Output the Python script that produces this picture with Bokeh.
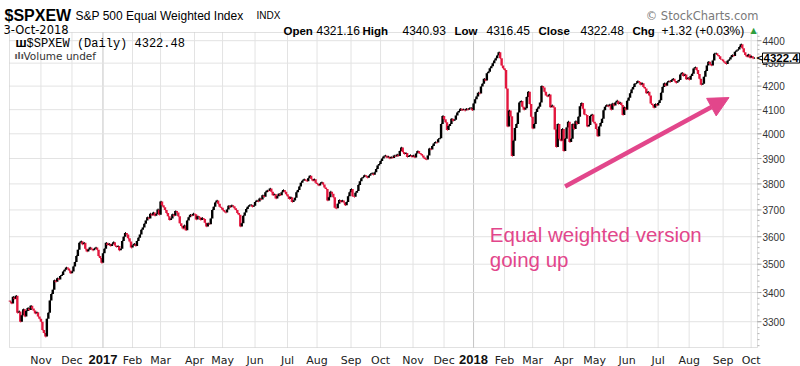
import math
import pandas as pd
from bokeh.plotting import figure
from bokeh.models import Range1d, Label, Arrow, NormalHead, BoxAnnotation, ColumnDataSource
from bokeh.embed import file_html
from bokeh.resources import INLINE

# ---------------- data ----------------
start_date = "2016-10-03"
end_date = "2018-10-03"
market_holidays = ["2016-11-24", "2016-12-26", "2017-01-02", "2017-01-16", "2017-02-20",
                   "2017-04-14", "2017-05-29", "2017-07-04", "2017-09-04", "2017-11-23",
                   "2017-12-25", "2018-01-01", "2018-01-15", "2018-02-19", "2018-03-30",
                   "2018-05-28", "2018-07-04", "2018-09-03"]

first_open = 3372
close = [
    # Oct 2016
    3368, 3362, 3385, 3378, 3389, 3330, 3335, 3300, 3322, 3342, 3318, 3336, 3347, 3340, 3354, 3345, 3338, 3328, 3332, 3318, 3310,
    # Nov 2016
    3300, 3272, 3262, 3250, 3310, 3330, 3372, 3395, 3410, 3443, 3438, 3450, 3446, 3458, 3462, 3474, 3480, 3488, 3485, 3478, 3468,
    # Dec 2016
    3474, 3492, 3508, 3530, 3552, 3578, 3583, 3572, 3578, 3556, 3546, 3552, 3560, 3556, 3550, 3556, 3560, 3552, 3530, 3522, 3505,
    # Jan 2017
    3540, 3556, 3578, 3570, 3574, 3566, 3572, 3580, 3568, 3562, 3566, 3550, 3556, 3584, 3600, 3614, 3608, 3594, 3582, 3560,
    # Feb 2017
    3568, 3574, 3566, 3584, 3596, 3608, 3626, 3634, 3648, 3660, 3672, 3668, 3686, 3680, 3690, 3678, 3684, 3702, 3682,
    # Mar 2017
    3732, 3718, 3710, 3700, 3688, 3676, 3662, 3668, 3684, 3678, 3696, 3690, 3676, 3650, 3640, 3630, 3642, 3624, 3660, 3672, 3682, 3678, 3686,
    # Apr 2017
    3684, 3664, 3676, 3672, 3662, 3670, 3666, 3652, 3638, 3650, 3646, 3668, 3700, 3712, 3728, 3736, 3724, 3712, 3708,
    # May 2017
    3700, 3694, 3690, 3702, 3716, 3710, 3718, 3714, 3706, 3700, 3688, 3682, 3638, 3650, 3678, 3690, 3704, 3712, 3718, 3720, 3712, 3716,
    # Jun 2017
    3730, 3736, 3732, 3744, 3740, 3756, 3750, 3768, 3774, 3772, 3782, 3770, 3756, 3760, 3744, 3752, 3762, 3756, 3768, 3776, 3770, 3760,
    # Jul 2017
    3752, 3742, 3748, 3730, 3736, 3746, 3768, 3776, 3790, 3804, 3812, 3818, 3814, 3810, 3822, 3832, 3820, 3812, 3818, 3804,
    # Aug 2017
    3800, 3794, 3802, 3806, 3798, 3786, 3780, 3736, 3748, 3770, 3762, 3748, 3708, 3706, 3724, 3738, 3730, 3736, 3728, 3718, 3730, 3752, 3768,
    # Sep 2017
    3780, 3752, 3750, 3766, 3772, 3796, 3810, 3822, 3826, 3834, 3830, 3824, 3832, 3838, 3842, 3836, 3846, 3858, 3872, 3878,
    # Oct 2017
    3890, 3900, 3908, 3912, 3904, 3908, 3900, 3906, 3902, 3912, 3908, 3916, 3910, 3930, 3944, 3926, 3918, 3922, 3906, 3910, 3914, 3906,
    # Nov 2017
    3912, 3904, 3920, 3930, 3922, 3918, 3912, 3904, 3898, 3896, 3912, 3940, 3936, 3950, 3960, 3966, 3964, 3978, 3982, 4040, 4074,
    # Dec 2017
    4060, 4048, 4016, 4032, 4040, 4062, 4054, 4058, 4076, 4088, 4094, 4104, 4098, 4102, 4096, 4104, 4100, 4106, 4108, 4098,
    # Jan 2018
    4126, 4144, 4156, 4172, 4168, 4198, 4210, 4232, 4224, 4256, 4262, 4278, 4286, 4300, 4312, 4322, 4334, 4348, 4322, 4290, 4278,
    # Feb 2018
    4270, 4190, 4030, 4096, 4072, 3910, 3972, 4024, 4040, 4088, 4130, 4136, 4112, 4100, 4106, 4154, 4176, 4124, 4070,
    # Mar 2018
    4022, 4040, 4090, 4104, 4112, 4130, 4200, 4194, 4176, 4160, 4156, 4164, 4110, 4118, 4110, 4018, 3946, 4040, 3980, 3972, 4020,
    # Apr 2018
    3930, 3980, 4026, 4050, 3966, 3980, 4040, 4020, 4052, 4040, 4070, 4114, 4128, 4104, 4080, 4078, 4030, 4036, 4074, 4080, 4050,
    # May 2018
    4042, 4020, 3990, 4030, 4044, 4062, 4098, 4112, 4120, 4114, 4122, 4100, 4126, 4118, 4130, 4138, 4124, 4130, 4120, 4078, 4110, 4100,
    # Jun 2018
    4138, 4150, 4170, 4186, 4196, 4210, 4212, 4222, 4218, 4206, 4212, 4196, 4190, 4170, 4176, 4160, 4126, 4120, 4108, 4124, 4118,
    # Jul 2018
    4128, 4140, 4172, 4196, 4212, 4202, 4216, 4222, 4218, 4226, 4232, 4222, 4214, 4220, 4226, 4250, 4258, 4244, 4250, 4230, 4236,
    # Aug 2018
    4228, 4244, 4254, 4276, 4282, 4270, 4252, 4232, 4206, 4210, 4240, 4266, 4290, 4306, 4296, 4290, 4312, 4342, 4344, 4336, 4330, 4318, 4316,
    # Sep 2018
    4308, 4302, 4296, 4310, 4316, 4326, 4336, 4332, 4350, 4356, 4360, 4372, 4384, 4366, 4348, 4336, 4328, 4338, 4324,
    # Oct 2018
    4330, 4321.16, 4322.48,
]

month_labels = ["Nov", "Dec", "2017", "Feb", "Mar", "Apr", "May", "Jun", "Jul", "Aug", "Sep", "Oct",
                "Nov", "Dec", "2018", "Feb", "Mar", "Apr", "May", "Jun", "Jul", "Aug", "Sep", "Oct"]
price_ticks = [3300, 3400, 3500, 3600, 3700, 3800, 3900, 4000, 4100, 4200, 4300, 4400]
minor_price_ticks = list(range(3220, 4440, 20))

symbol = "$SPXEW"
index_name = "S&P 500 Equal Weighted Index"
last_date = "3-Oct-2018"
q_open, q_high, q_low, q_close = "4321.16", "4340.93", "4316.45", "4322.48"
q_chg = "+1.32 (+0.03%)"
note_lines = ["Equal weighted version", "going up"]

# ---------------- build ----------------
dates = pd.bdate_range(start_date, end_date)
dates = dates[~dates.isin(pd.to_datetime(market_holidays))]
n = min(len(dates), len(close))
dates = dates[:n]
xs = list(range(n))
prev = [first_open] + close[:n - 1]
UP, DOWN = "#000000", "#e3173e"
colors = [UP if c >= p0 else DOWN for c, p0 in zip(close[:n], prev)]
src = ColumnDataSource(dict(x=xs, y0=prev, y1=close[:n], c=colors,
                            xr=[x + 0.6 for x in xs]))

month_idx = [i for i in range(1, n) if dates[i].month != dates[i - 1].month]
label_map = dict(zip(month_idx, month_labels))

# canvas / plot-area geometry (pixels) and plot-area data bounds
W, H = 800, 366
FL, FR, FT, FB = 9, 757, 32, 347
X0, X1 = -0.3, 506.3
Y0, Y1 = 3214.0, 4437.0
pxu = (FR - FL) / (X1 - X0)                    # pixels per trading day
k = math.log(Y1 / Y0) / (FB - FT)              # log units per pixel
xr = Range1d(X0 - FL / pxu, X1 + (W - FR) / pxu)
yr = Range1d(Y0 * math.exp(-k * (H - FB)), Y1 * math.exp(k * FT))

PINK = "#e2468b"
GRID = "#e3e3e3"

p = figure(width=W, height=H, output_backend="svg", toolbar_location=None,
           y_axis_type="log", x_range=xr, y_range=yr,
           min_border=0, background_fill_color="white", border_fill_color="white")
p.outline_line_color = None
p.xaxis.visible = False
p.yaxis.visible = False
p.grid.visible = False

# grid lines of the plot area
p.segment(x0=month_idx, y0=[Y0] * len(month_idx), x1=month_idx, y1=[Y1] * len(month_idx),
          line_color=[("#c4c4c4" if label_map[i].isdigit() else GRID) for i in month_idx],
          line_width=1)
p.segment(x0=[X0] * len(price_ticks), y0=price_ticks, x1=[X1] * len(price_ticks), y1=price_ticks,
          line_color=GRID, line_width=1)
# right-axis tick marks
p.segment(x0=[X1] * len(price_ticks), y0=price_ticks, x1=[X1 + 4 / pxu] * len(price_ticks),
          y1=price_ticks, line_color="#999999", line_width=1)
p.segment(x0=[X1] * len(minor_price_ticks), y0=minor_price_ticks,
          x1=[X1 + 2 / pxu] * len(minor_price_ticks), y1=minor_price_ticks,
          line_color="#b5b5b5", line_width=1)

# price bars
p.segment(x0="x", y0="y0", x1="x", y1="y1", line_color="c", line_width=2.4, source=src)
p.segment(x0="x", y0="y1", x1="xr", y1="y1", line_color="c", line_width=1.6, source=src)

# plot-area border
p.add_layout(BoxAnnotation(left=X0, right=X1, bottom=Y0, top=Y1, fill_alpha=0,
                           line_color="#9a9a9a", line_width=1))


def T(x, y, text, size="12px", bold=False, color="#000000", font="Liberation Sans",
      align="left", baseline="alphabetic", xu="screen", yu="screen"):
    """Text; screen coordinates are given as canvas pixels from the top-left corner."""
    p.add_layout(Label(x=x, y=(H - y) if yu == "screen" else y, x_units=xu, y_units=yu,
                       text=text, text_font=font, text_font_size=size,
                       text_font_style="bold" if bold else "normal",
                       text_color=color, text_align=align, text_baseline=baseline))


# x-axis labels
for i, lab in label_map.items():
    if lab.isdigit():
        T(i, 358.5, lab, size="13px", bold=True, color="#111111", align="center", xu="data")
    else:
        T(i, 360, lab, size="11px", color="#222222", align="center", font="DejaVu Sans", xu="data")

# y-axis labels
for v in price_ticks:
    T(762, v, str(v), size="10px", color="#333333", baseline="middle", yu="data")

# annotation arrow and note
p.add_layout(Arrow(end=NormalHead(size=20, fill_color=PINK, line_color=PINK),
                   x_start=376, y_start=3790, x_end=487, y_end=4151,
                   line_color=PINK, line_width=4.5))
T(325, 3608, note_lines[0], size="20.5px", color=PINK, xu="data", yu="data")
T(325, 3517, note_lines[1], size="20.5px", color=PINK, xu="data", yu="data")

# ---------------- header texts ----------------
T(4, 15, symbol, size="16px", bold=True)
T(75, 15, index_name, size="12px")
T(256, 15, "INDX", size="10px")
T(3, 29.5, last_date, size="11.5px", font="DejaVu Sans")
T(758, 15, "\u00a9 StockCharts.com", size="11.5px", color="#7a7a7a", font="DejaVu Sans", align="right")

hx = [(283, "Open", True), (316, q_open, False), (362, "High", True), (402, q_high, False),
      (454, "Low", True), (486, q_low, False), (538, "Close", True), (580, q_close, False),
      (632, "Chg", True), (661, q_chg, False)]
for x, t, b in hx:
    T(x, 30, t, size="11.5px" if b else "12px", bold=b)
T(750, 30, "\u25b2", size="8px", color="#2e9e3e", font="DejaVu Sans")

T(15, 43, "\u0428", size="9px", bold=True, font="DejaVu Sans")
T(26, 43, f"{symbol} (Daily) {q_close}", size="12px", font="Liberation Mono")
T(14, 55, "\u0131l\u0131", size="9px", bold=True, font="DejaVu Sans", color="#555555")
T(23, 55, "Volume undef", size="10.5px", font="DejaVu Sans", color="#333333")

# last price marker on the right axis
T(755, float(q_close), "<", size="12px", font="DejaVu Sans", baseline="middle", yu="data")
p.add_layout(Label(x=762, y=float(q_close), x_units="screen", y_units="data",
                   text=q_close[:6], text_font="Liberation Sans", text_font_style="bold",
                   text_font_size="11.5px", text_baseline="middle", text_color="#000000",
                   border_line_color="#000000", background_fill_color="white", padding=1))

open("out.html", "w").write(file_html(p, INLINE))
